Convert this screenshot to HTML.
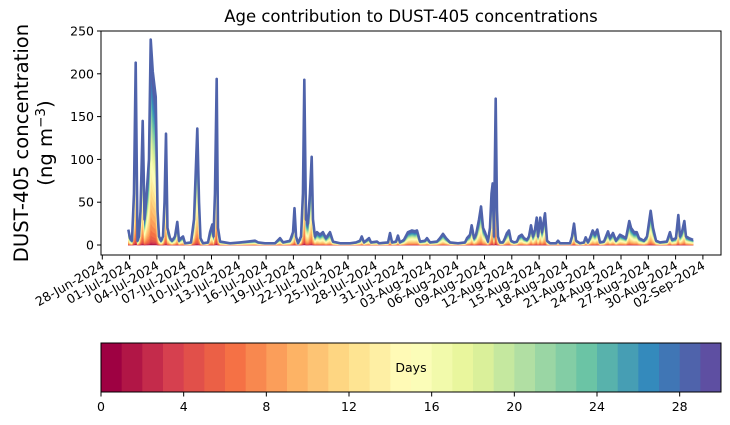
<!DOCTYPE html>
<html><head><meta charset="utf-8"><style>
body{margin:0;background:#fff;}
svg{display:block;font-family:"DejaVu Sans","Liberation Sans",sans-serif;}
</style></head><body>
<svg id="chart" width="730" height="425" viewBox="0 0 730 425" xmlns="http://www.w3.org/2000/svg">
<text x="411" y="22" font-size="16.5" text-anchor="middle">Age contribution to DUST-405 concentrations</text>
<g font-size="19.6" text-anchor="middle">
<text transform="translate(28,143) rotate(-90)">DUST-405 concentration</text>
<text transform="translate(52,143) rotate(-90)">(ng m<tspan font-size="13.5" dy="-7">−3</tspan><tspan dy="7">)</tspan></text>
</g>
<g id="plot"></g>
<g id="axes"></g>
<g id="cbar"></g>
</svg>
<script>
// ---- data ----
const tickDays = [0,3,6,9,12,15,18,21,24,27,30,33,36,39,42,45,48,51,54,57,60,63,66];
const tickLabels = ["28-Jun-2024","01-Jul-2024","04-Jul-2024","07-Jul-2024","10-Jul-2024","13-Jul-2024","16-Jul-2024","19-Jul-2024","22-Jul-2024","25-Jul-2024","28-Jul-2024","31-Jul-2024","03-Aug-2024","06-Aug-2024","09-Aug-2024","12-Aug-2024","15-Aug-2024","18-Aug-2024","21-Aug-2024","24-Aug-2024","27-Aug-2024","30-Aug-2024","02-Sep-2024"];
const yTicks = [0,50,100,150,200,250];
const cbarTicks = [0,4,8,12,16,20,24,28];
// sample times (days since 28-Jun-2024) and total concentration (ng m-3)
const times = [2.86,3.04,3.26,3.48,3.67,3.87,4.03,4.20,4.44,4.64,4.80,4.95,5.13,5.32,5.54,5.87,6.07,6.23,6.45,6.67,6.84,7.00,7.16,7.44,7.66,7.99,8.24,8.43,8.65,8.87,9.09,9.75,10.08,10.44,10.63,10.79,11.07,11.62,11.84,12.09,12.22,12.38,12.57,12.71,12.94,14.04,15.14,16.02,16.79,17.12,17.88,18.98,19.53,19.86,20.63,20.96,21.12,21.29,21.51,21.84,22.05,22.20,22.38,22.60,22.82,23.01,23.15,23.37,23.59,23.92,24.25,24.58,25.02,25.35,26.12,27.22,27.88,28.32,28.51,28.76,28.98,29.31,29.53,30.19,30.41,31.40,31.62,31.84,32.28,32.49,32.71,33.15,33.59,34.03,34.36,34.58,34.91,35.46,35.68,36.01,36.78,37.11,37.44,37.77,38.21,39.09,39.86,40.08,40.41,40.59,40.85,41.07,41.40,41.62,41.84,42.05,42.38,42.60,42.77,42.90,43.04,43.23,43.37,43.48,43.70,44.03,44.25,44.47,44.69,44.91,45.24,45.57,45.79,46.09,46.34,46.67,46.89,47.11,47.33,47.55,47.74,47.88,48.13,48.32,48.65,48.87,49.20,49.86,50.08,50.30,51.40,51.62,51.84,52.06,52.49,52.93,53.12,53.37,53.59,53.89,54.14,54.40,54.69,55.13,55.35,55.57,55.79,56.12,56.45,56.89,57.22,57.55,57.91,58.10,58.43,58.73,58.98,59.53,59.86,60.26,60.52,60.85,61.28,62.05,62.38,62.60,63.04,63.30,63.48,63.70,63.96,64.14,64.47,64.91];
const totals = [18,8,5,60,213,5,10,40,145,30,50,72,100,240,203,173,40,10,5,10,50,130,20,8,5,10,27,5,8,10,2,3,30,136,50,8,2,3,15,24,10,60,194,20,4,2,3,4,5,3,2,2,8,3,5,15,43,10,2,10,60,193,30,25,60,103,30,10,15,12,15,8,15,4,2,2,3,5,10,3,5,8,3,4,2,3,14,3,4,11,3,6,15,17,16,17,4,5,8,3,4,8,13,8,3,2,3,8,12,23,8,12,30,45,20,15,4,20,60,72,10,171,40,10,3,3,8,14,17,5,3,4,10,12,8,6,10,23,10,18,32,10,32,15,37,5,2,2,5,2,2,10,25,5,2,3,9,3,8,17,12,18,3,4,10,16,8,14,5,12,10,8,28,20,15,15,8,5,10,40,20,5,3,4,15,6,8,35,10,15,28,10,8,6];
// relative share of each age bin (days 0..29)
const ageWeights = [0.003,0.004,0.005,0.008,0.012,0.02,0.03,0.035,0.04,0.045,0.05,0.05,0.05,0.05,0.05,0.045,0.04,0.04,0.035,0.035,0.035,0.035,0.035,0.035,0.04,0.04,0.045,0.05,0.06,0.07];

// ---- scales ----
const X0=102.3, PXD=9.1, Y0=245, PXV=214/250;
const xs = d => X0 + d*PXD;
const ys = v => Y0 - v*PXV;
const NS="http://www.w3.org/2000/svg";
function mk(tag, attrs, parent){const e=document.createElementNS(NS,tag);for(const k in attrs)e.setAttribute(k,attrs[k]);parent.appendChild(e);return e;}
const anchors=["#9e0142","#d53e4f","#f46d43","#fdae61","#fee08b","#ffffbf","#e6f598","#abdda4","#66c2a5","#3288bd","#5e4fa2"];
function spectral(t){const p=t*10,i=Math.min(9,Math.floor(p)),f=p-i;const a=anchors[i],b=anchors[i+1];
 const c=[1,3,5].map(k=>Math.round(parseInt(a.substr(k,2),16)*(1-f)+parseInt(b.substr(k,2),16)*f));return `rgb(${c.join(",")})`;}
const wsum = ageWeights.reduce((a,b)=>a+b,0);

// ---- stacked layers ----
const plot=document.getElementById('plot');
let cum = times.map(()=>0);
ageWeights.forEach((w,k)=>{
  const lower=cum.slice(); cum=cum.map((c,i)=>c+totals[i]*w/wsum);
  let d="M"+times.map((t,i)=>xs(t).toFixed(2)+","+ys(cum[i]).toFixed(2)).join("L");
  for(let i=times.length-1;i>=0;i--) d+="L"+xs(times[i]).toFixed(2)+","+ys(lower[i]).toFixed(2);
  const p=mk('path',{d:d+"Z",fill:spectral(k/29),stroke:spectral(k/29),'stroke-width':0.6},plot);
  
  
});
const topLine=mk('path',{d:"M"+times.map((t,i)=>xs(t).toFixed(2)+","+ys(totals[i]).toFixed(2)).join("L"),fill:"none",stroke:"#4f63ab","stroke-width":2.6,"stroke-linejoin":"round"},plot);



// ---- axes ----
const ax=document.getElementById('axes');
const frame=mk('rect',{x:101,y:31,width:620,height:224,fill:"none",stroke:"#000","stroke-width":1},ax);


yTicks.forEach(v=>{
  mk('line',{x1:97,x2:101,y1:ys(v),y2:ys(v),stroke:"#000"},ax);
  const t=mk('text',{x:94,y:ys(v)+4.5,'font-size':12.5,'text-anchor':'end'},ax);t.textContent=v;
  
  
});
tickDays.forEach((d,i)=>{
  const x=xs(d);
  mk('line',{x1:x,x2:x,y1:255,y2:259.5,stroke:"#000"},ax);
  const t=mk('text',{x:0,y:0,'font-size':12.5,'text-anchor':'end',transform:`translate(${x+3},${268}) rotate(-30)`},ax);
  t.textContent=tickLabels[i];
  
  
});

// ---- colorbar ----
const cb=document.getElementById('cbar');
const CX=101,CW=620,CY=343,CH=49;
for(let k=0;k<30;k++){
  const r=mk('rect',{x:CX+k*CW/30,y:CY,width:CW/30+0.5,height:CH,fill:spectral(k/29)},cb);
  
  
}
mk('rect',{x:CX,y:CY,width:CW,height:CH,fill:"none",stroke:"#000","stroke-width":1},cb);
const dl=mk('text',{x:411,y:372,'font-size':12.5,'text-anchor':'middle'},cb);dl.textContent="Days";


cbarTicks.forEach(v=>{
  const x=CX+v*CW/30;
  mk('line',{x1:x,x2:x,y1:392,y2:396.5,stroke:"#000"},cb);
  const t=mk('text',{x:x,y:411,'font-size':12.5,'text-anchor':'middle'},cb);t.textContent=v;
  
  
});
</script>
</body></html>
